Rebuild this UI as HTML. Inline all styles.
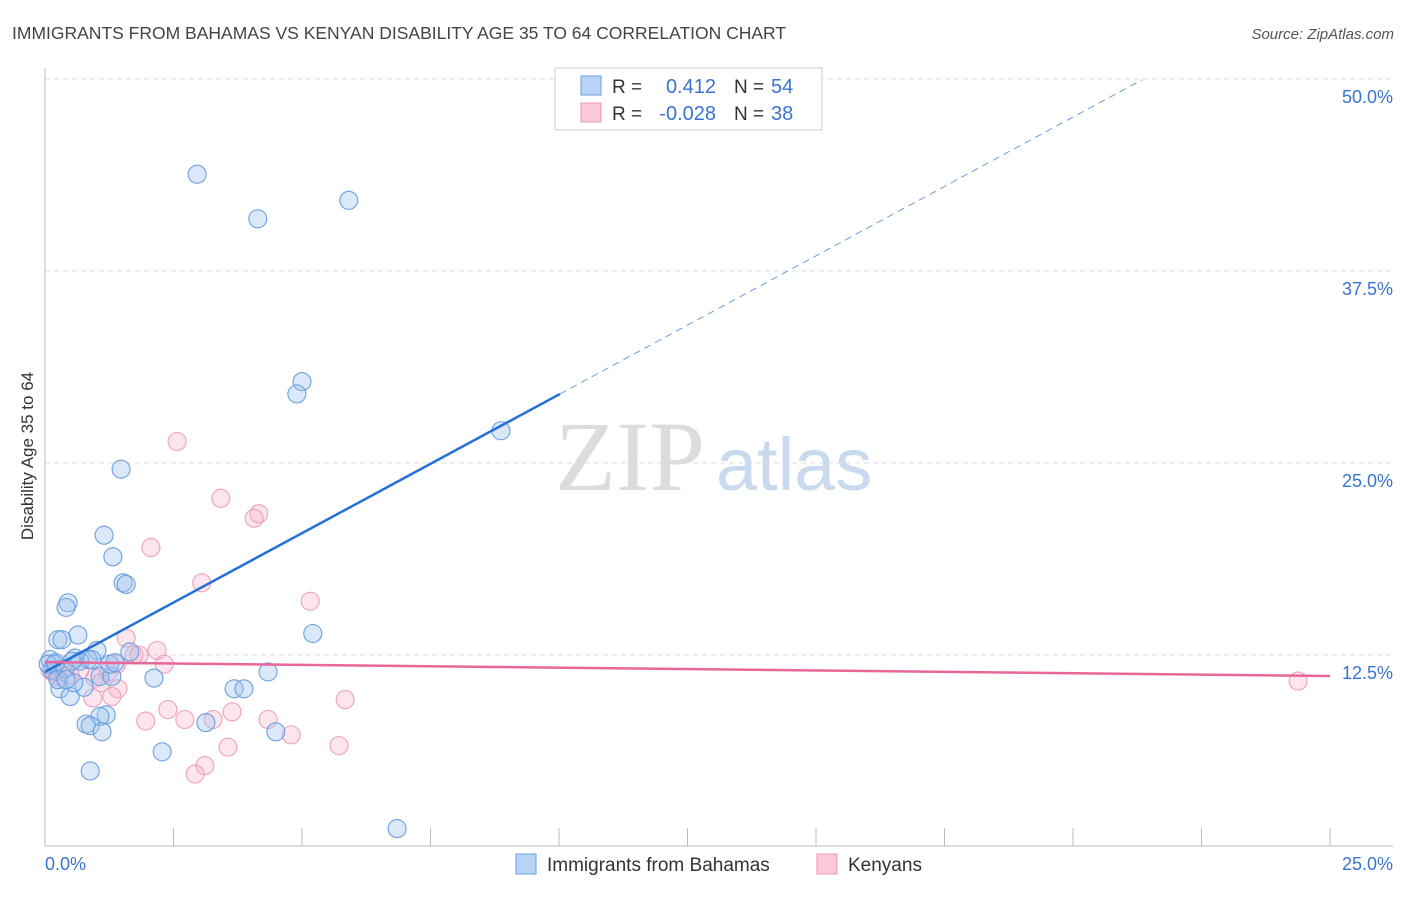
<!DOCTYPE html>
<html><head><meta charset="utf-8"><style>
body{margin:0;background:#fff;font-family:"Liberation Sans",sans-serif}
</style></head><body>
<svg id="c" width="1406" height="892" style="font-family:'Liberation Sans',sans-serif"></svg>
<script>
const blueX=[2.96,4.14,5.91,5.0,4.9,8.87,1.48,1.15,1.32,1.52,1.58,0.45,0.41,0.64,0.25,0.33,5.21,1.01,1.65,0.58,0.84,0.1,0.19,1.07,1.3,2.12,4.34,0.29,0.49,0.76,0.56,3.68,3.87,1.19,1.07,0.8,0.88,1.11,3.13,4.49,2.28,0.88,6.85,0.14,0.06,0.21,0.39,1.26,1.36,0.68,0.91,0.25,0.41,0.53];
const blueY=[43.8,40.9,42.1,30.3,29.5,27.1,24.6,20.3,18.9,17.2,17.1,15.9,15.6,13.8,13.5,13.5,13.9,12.8,12.7,12.3,12.2,12.2,11.9,11.1,11.1,11.0,11.4,10.3,9.8,10.4,10.7,10.3,10.3,8.6,8.5,8.0,7.9,7.5,8.1,7.5,6.2,4.95,1.2,11.5,11.9,12.0,11.6,11.9,12.0,12.1,12.2,10.9,10.9,12.1];
const pinkX=[2.57,3.42,4.16,4.07,2.06,3.05,5.16,1.58,2.18,2.32,1.83,1.73,1.4,1.23,0.97,1.09,1.42,1.3,0.93,3.64,4.34,2.39,1.96,2.72,3.27,4.79,3.56,5.72,3.11,2.92,5.84,24.38,0.1,0.19,0.33,0.49,0.68,0.25];
const pinkY=[26.4,22.7,21.7,21.4,19.5,17.2,16.0,13.6,12.8,11.9,12.5,12.5,11.9,11.4,11.0,10.7,10.3,9.8,9.7,8.8,8.3,8.95,8.2,8.3,8.3,7.3,6.5,6.6,5.3,4.75,9.6,10.8,11.5,11.4,11.6,11.2,11.5,11.1];
const yTicks=[12.5,25,37.5,50];
const blueLine=[11.4,1.806], pinkLine=[12.04,-0.0364];
const NS="http://www.w3.org/2000/svg", svg=document.getElementById('c');
const X=v=>45+v*51.4, Y=v=>847-v*15.36;
function el(t,a,txt){const e=document.createElementNS(NS,t);for(const k in a)e.setAttribute(k,a[k]);if(txt!=null)e.textContent=txt;svg.appendChild(e);return e;}
let e;
e=el('text',{x:12,y:39,'font-size':17.5,fill:'#444'},'IMMIGRANTS FROM BAHAMAS VS KENYAN DISABILITY AGE 35 TO 64 CORRELATION CHART');

e=el('text',{x:1394,y:39,'font-size':15,fill:'#555','font-style':'italic','text-anchor':'end'},'Source: ZipAtlas.com');

e=el('text',{x:555,y:490,'font-size':100,fill:'#dcdcdc',style:"font-family:'Liberation Serif',serif"},'ZIP');

e=el('text',{x:716,y:490,'font-size':74,fill:'#c9d9ee'},'atlas');

yTicks.forEach(t=>{
 e=el('line',{x1:45,x2:1393,y1:Y(t),y2:Y(t),stroke:'#ddd','stroke-dasharray':'5,4'});
 
 e=el('text',{x:1393,y:Y(t)+24,'font-size':18,fill:'#3a74d0','text-anchor':'end'},t.toFixed(1)+'%');
 
});
e=el('line',{x1:45,x2:45,y1:68,y2:846,stroke:'#bbb'});
e=el('line',{x1:45,x2:1393,y1:846,y2:846,stroke:'#bbb'});
for(let i=1;i<=10;i++){e=el('line',{x1:X(i*2.5),x2:X(i*2.5),y1:828,y2:846,stroke:'#bbb'});}
e=el('text',{x:45,y:870,'font-size':18,fill:'#3a74d0'},'0.0%');
e=el('text',{x:1393,y:870,'font-size':18,fill:'#3a74d0','text-anchor':'end'},'25.0%');
e=el('text',{x:33,y:456,'font-size':17,fill:'#333','text-anchor':'middle',transform:'rotate(-90 33 456)'},'Disability Age 35 to 64');

pinkX.forEach((v,i)=>{e=el('circle',{cx:X(v),cy:Y(pinkY[i]),r:9,fill:'rgba(246,170,195,0.3)',stroke:'#f0a0bb','stroke-width':1.1});
 });
blueX.forEach((v,i)=>{e=el('circle',{cx:X(v),cy:Y(blueY[i]),r:9,fill:'rgba(160,195,240,0.38)',stroke:'#6aa0e0','stroke-width':1.1});
 });
const bx1=10.02, bx2=(50.5-blueLine[0])/blueLine[1]-0.3;
e=el('line',{x1:X(0),y1:Y(blueLine[0]),x2:X(bx1),y2:Y(blueLine[0]+blueLine[1]*bx1),stroke:'#2370d8','stroke-width':2.5});

e=el('line',{x1:X(bx1),y1:Y(blueLine[0]+blueLine[1]*bx1),x2:X(bx2),y2:Y(blueLine[0]+blueLine[1]*bx2),stroke:'#6a9ee0','stroke-width':1,'stroke-dasharray':'7,5'});

e=el('line',{x1:X(0),y1:Y(pinkLine[0]),x2:X(25),y2:Y(pinkLine[0]+pinkLine[1]*25),stroke:'#e8679a','stroke-width':2.5});

e=el('rect',{x:555,y:68,width:267,height:62,fill:'#fff',stroke:'#ccc'});
[[0,'#b8d3f5','#6a9ee0','0.412','54'],[1,'#fbc9d8','#ee95b2','-0.028','38']].forEach(([i,f,s,r,n])=>{
 const y=86+i*27;
 e=el('rect',{x:581,y:y-10,width:20,height:19,fill:f,stroke:s});
 e=el('text',{x:612,y:y+7,'font-size':19,fill:'#333'},'R =');
 e=el('text',{x:716,y:y+7,'font-size':20,fill:'#3a74d0','text-anchor':'end'},r);
 e=el('text',{x:734,y:y+7,'font-size':19,fill:'#333'},'N =');
 e=el('text',{x:771,y:y+7,'font-size':20,fill:'#3a74d0'},n);
});
[[516,'#b8d3f5','#6a9ee0','Immigrants from Bahamas'],[817,'#fbc9d8','#ee95b2','Kenyans']].forEach(([x,f,s,t])=>{
 e=el('rect',{x:x,y:854,width:20,height:20,fill:f,stroke:s});
 e=el('text',{x:x+31,y:871,'font-size':19,fill:'#333'},t);
});
</script></body></html>
